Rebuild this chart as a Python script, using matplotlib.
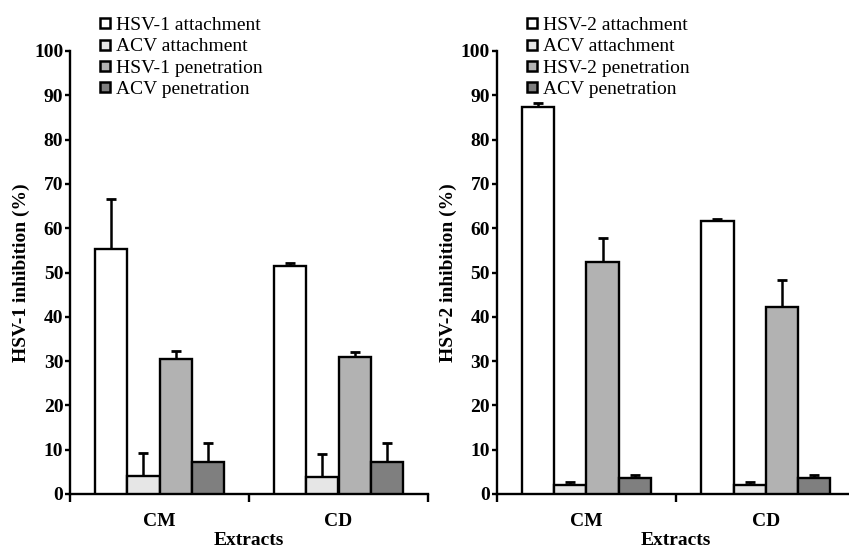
import matplotlib
matplotlib.use("Agg")
import matplotlib.pyplot as plt
from matplotlib.lines import Line2D
import numpy as np

plt.rcParams['font.family'] = ['Liberation Serif', 'DejaVu Serif']

categories = ["CM", "CD"]
colors = ["#ffffff", "#e6e6e6", "#b2b2b2", "#7f7f7f"]

# Panel 1 (HSV-1)
labels1 = ["HSV-1 attachment", "ACV attachment", "HSV-1 penetration", "ACV penetration"]
vals1 = [[55.2, 51.5], [4.1, 3.8], [30.5, 30.9], [7.2, 7.2]]
errs1 = [[11.3, 0.7], [5.2, 5.3], [1.8, 1.2], [4.2, 4.2]]

# Panel 2 (HSV-2)
labels2 = ["HSV-2 attachment", "ACV attachment", "HSV-2 penetration", "ACV penetration"]
vals2 = [[87.3, 61.6], [2.0, 2.0], [52.3, 42.1], [3.7, 3.7]]
errs2 = [[0.9, 0.5], [0.7, 0.7], [5.5, 6.1], [0.7, 0.7]]

ylabels = ["HSV-1 inhibition (%)", "HSV-2 inhibition (%)"]

fig = plt.figure(figsize=(8.49, 5.48), dpi=100)
ax1 = fig.add_axes([70/849, 54/548, 358/849, 443/548])
ax2 = fig.add_axes([496.7/849, 54/548, 358.8/849, 443/548])

width = 0.18
offsets = [-0.27, -0.09, 0.09, 0.27]
x = np.arange(len(categories))

for ax, vals, errs, labs, ylab in [(ax1, vals1, errs1, labels1, ylabels[0]),
                                    (ax2, vals2, errs2, labels2, ylabels[1])]:
    for i in range(4):
        ax.bar(x + offsets[i], vals[i], width=width, color=colors[i],
               edgecolor='black', linewidth=1.7, zorder=3)
        ax.errorbar(x + offsets[i], vals[i],
                    yerr=[np.zeros(len(categories)), errs[i]],
                    fmt='none', ecolor='black', elinewidth=1.8,
                    capsize=3.8, capthick=2.0, zorder=2)
    ax.set_xlim(-0.5, 1.5)
    ax.set_ylim(0, 100)
    ax.set_yticks(np.arange(0, 101, 10))
    ax.set_xticks([-0.5, 0.5, 1.5])
    ax.set_xticklabels(["", "", ""])
    ax.set_xticks(x, minor=True)
    ax.set_xticklabels(categories, minor=True, fontsize=14, fontweight='bold')
    ax.tick_params(axis='x', which='major', direction='out', length=5.5, width=1.7)
    ax.tick_params(axis='x', which='minor', length=0, pad=14)
    ax.tick_params(axis='y', direction='out', length=3.8, width=1.7, pad=1,
                   labelsize=14)
    for t in ax.get_yticklabels():
        t.set_fontweight('bold')
    for s in ['top', 'right']:
        ax.spines[s].set_visible(False)
    for s in ['left', 'bottom']:
        ax.spines[s].set_linewidth(1.7)
    ax.set_ylabel(ylab, fontsize=14, fontweight='bold', labelpad=3)
    ax.set_xlabel("Extracts", fontsize=14, fontweight='bold', labelpad=1)
    handles = [Line2D([0], [0], marker='s', linestyle='none', markersize=7,
                      markerfacecolor=colors[i], markeredgecolor='black',
                      markeredgewidth=1.8) for i in range(4)]
    leg = ax.legend(handles, labs, loc='upper left', bbox_to_anchor=(0.06, 1.095),
                    frameon=False, fontsize=14, handlelength=0.6,
                    handletextpad=0.25, labelspacing=0.18, borderaxespad=0)

fig.savefig("out.png", dpi=100)
